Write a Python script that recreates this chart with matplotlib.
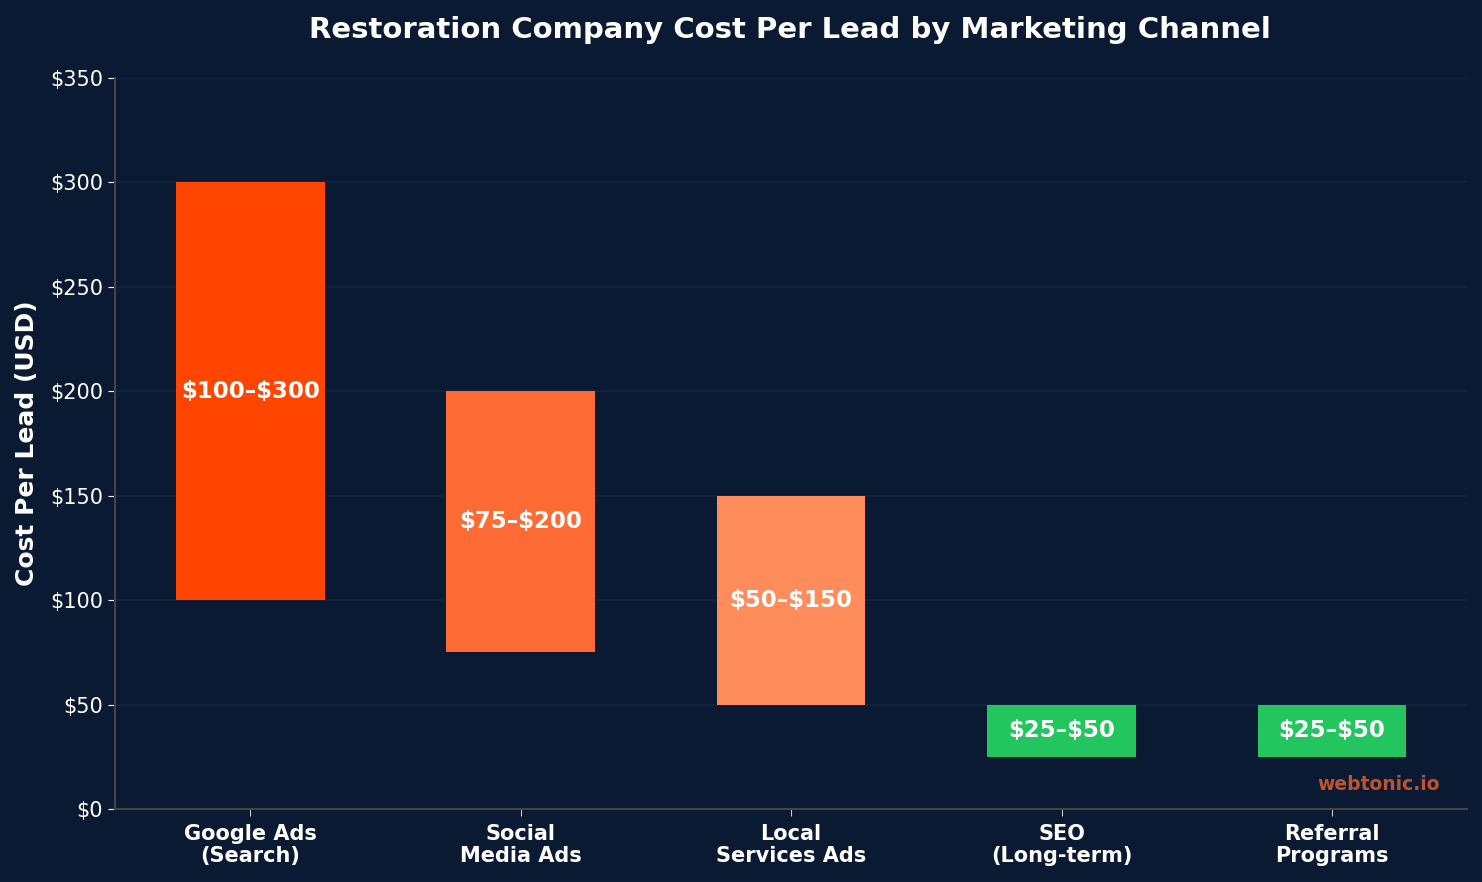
import matplotlib
matplotlib.use("Agg")
import matplotlib.pyplot as plt

# Data
channels = ["Google Ads\n(Search)", "Social\nMedia Ads", "Local\nServices Ads", "SEO\n(Long-term)", "Referral\nPrograms"]
cost_low = [100, 75, 50, 25, 25]
cost_high = [300, 200, 150, 50, 50]
bar_colors = ["#ff4500", "#ff6b35", "#ff8c5a", "#22c55e", "#22c55e"]

BG = "#0b1a33"

fig = plt.figure(figsize=(14.82, 8.82), dpi=100, facecolor=BG)
ax = fig.add_axes([0.0776, 0.0828, 0.9124, 0.8288])
ax.set_facecolor(BG)

x = list(range(len(channels)))
heights = [h - l for l, h in zip(cost_low, cost_high)]
ax.bar(x, heights, bottom=cost_low, width=0.55, color=bar_colors, zorder=3)

# Range labels in the middle of each bar
for i in x:
    mid = (cost_low[i] + cost_high[i]) / 2
    ax.text(i, mid, f"\\${cost_low[i]}\u2013\\${cost_high[i]}", ha="center", va="center",
            color="white", fontsize=16.5, fontweight="bold", zorder=4)

ax.set_xlim(-0.5, 4.5)
ax.set_ylim(0, 350)
ax.set_yticks(range(0, 351, 50))
ax.set_yticklabels([f"\\${v}" for v in range(0, 351, 50)])
ax.set_xticks(x)
ax.set_xticklabels(channels, fontsize=15, fontweight="bold", color="white", linespacing=1.12)

ax.tick_params(axis="y", colors="white", labelsize=15, length=5)
ax.tick_params(axis="x", colors="#cccccc", labelcolor="white", length=5, pad=6)
ax.grid(axis="y", color="#14233f", linewidth=1.2, zorder=0)

for side in ["top", "right"]:
    ax.spines[side].set_visible(False)
for side in ["left", "bottom"]:
    ax.spines[side].set_color("#444444")
    ax.spines[side].set_linewidth(1.5)

ax.set_ylabel("Cost Per Lead (USD)", color="white", fontsize=18, fontweight="bold", labelpad=8)
fig.suptitle("Restoration Company Cost Per Lead by Marketing Channel", color="white",
             fontsize=21, fontweight="bold", x=0.533, y=0.982)

ax.text(0.980, 0.033, "webtonic.io", transform=ax.transAxes, ha="right", va="center",
        color="#c0532d", fontsize=13.5, fontweight="bold")

fig.savefig("out.png", dpi=100, facecolor=BG)
